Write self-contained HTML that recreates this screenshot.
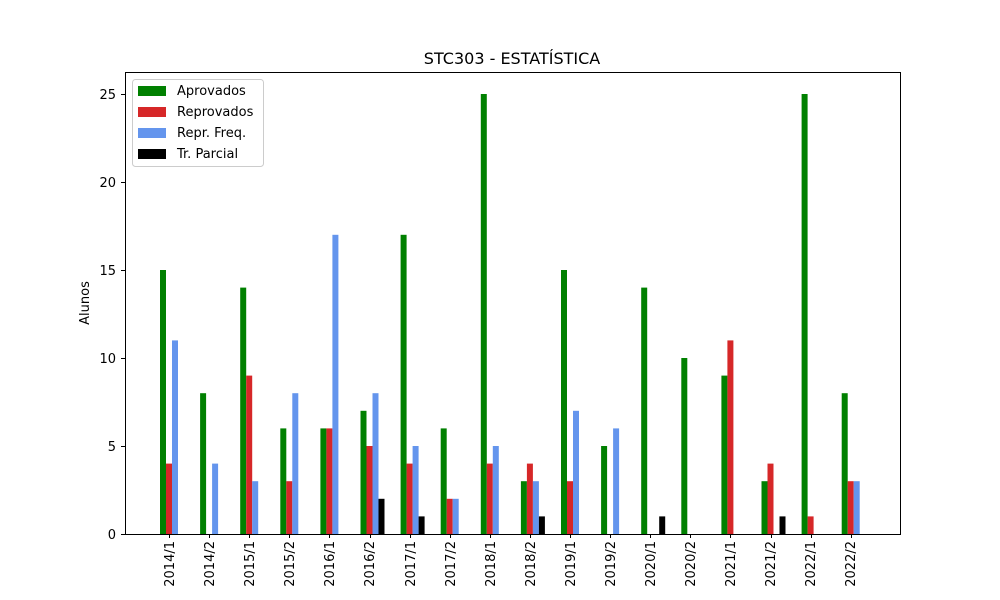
<!DOCTYPE html>
<html><head><meta charset="utf-8"><style>body{margin:0;background:#fff}svg{display:block}text{font-family:"DejaVu Sans","Liberation Sans",sans-serif;fill:#000}</style></head>
<body>
<svg id="s" width="1000" height="600" xmlns="http://www.w3.org/2000/svg">
<rect width="1000" height="600" fill="#fff"/>
<g id="bars"></g>
<rect x="125.5" y="72.5" width="775" height="462" fill="none" stroke="#000" stroke-width="1"/>
<text x="512" y="64" font-size="16" text-anchor="middle">STC303 - ESTATÍSTICA</text>
<text transform="translate(89,303) rotate(-90)" font-size="13" text-anchor="middle">Alunos</text>
<g font-size="13" text-anchor="end">
<text x="116" y="539">0</text><text x="116" y="451">5</text><text x="116" y="363">10</text>
<text x="116" y="275">15</text><text x="116" y="187">20</text><text x="116" y="99">25</text>
</g>
<g stroke="#000"><line x1="121" x2="125" y1="534.5" y2="534.5"/><line x1="121" x2="125" y1="446.5" y2="446.5"/><line x1="121" x2="125" y1="358.5" y2="358.5"/><line x1="121" x2="125" y1="270.5" y2="270.5"/><line x1="121" x2="125" y1="182.5" y2="182.5"/><line x1="121" x2="125" y1="94.5" y2="94.5"/></g>
<g id="xt" font-size="13" text-anchor="end">
<text transform="translate(174,541) rotate(-90)">2014/1</text>
<text transform="translate(214,541) rotate(-90)">2014/2</text>
<text transform="translate(254,541) rotate(-90)">2015/1</text>
<text transform="translate(294,541) rotate(-90)">2015/2</text>
<text transform="translate(334,541) rotate(-90)">2016/1</text>
<text transform="translate(374,541) rotate(-90)">2016/2</text>
<text transform="translate(415,541) rotate(-90)">2017/1</text>
<text transform="translate(455,541) rotate(-90)">2017/2</text>
<text transform="translate(495,541) rotate(-90)">2018/1</text>
<text transform="translate(535,541) rotate(-90)">2018/2</text>
<text transform="translate(575,541) rotate(-90)">2019/1</text>
<text transform="translate(615,541) rotate(-90)">2019/2</text>
<text transform="translate(655,541) rotate(-90)">2020/1</text>
<text transform="translate(695,541) rotate(-90)">2020/2</text>
<text transform="translate(735,541) rotate(-90)">2021/1</text>
<text transform="translate(775,541) rotate(-90)">2021/2</text>
<text transform="translate(815,541) rotate(-90)">2022/1</text>
<text transform="translate(855,541) rotate(-90)">2022/2</text>
</g>
<g id="xticks" stroke="#000"></g>
<rect x="132.5" y="79.5" width="131" height="87" rx="3" fill="#fff" stroke="#ccc"/>
<rect x="138" y="86" width="28" height="10" fill="#008000"/>
<rect x="138" y="107" width="28" height="10" fill="#d62728"/>
<rect x="138" y="128" width="28" height="10" fill="#6495ed"/>
<rect x="138" y="149" width="28" height="10" fill="#000"/>
<g font-size="13"><text x="177" y="95">Aprovados</text><text x="177" y="116">Reprovados</text><text x="177" y="137">Repr. Freq.</text><text x="177" y="158">Tr. Parcial</text></g>
</svg>
<script>
var d=[[15,8,14,6,6,7,17,6,25,3,15,5,14,10,9,3,25,8],[4,0,9,3,6,5,4,2,4,4,3,0,0,0,11,4,1,3],[11,4,3,8,17,8,5,2,5,3,7,6,0,0,0,0,0,3],[0,0,0,0,0,2,1,0,0,1,0,0,1,0,0,1,0,0]];
var c=["#008000","#d62728","#6495ed","#000"],h="",t="";
for(var i=0;i<18;i++){var x0=160+40.1*i;
for(var s=0;s<4;s++){var v=d[s][i];if(v>0)h+='<rect x="'+(x0+6*s)+'" y="'+(534-17.6*v)+'" width="6" height="'+(17.6*v)+'" fill="'+c[s]+'"/>';}
var tx=Math.round(x0+9)+0.5;t+='<line x1="'+tx+'" x2="'+tx+'" y1="534" y2="538"/>';}
document.getElementById("bars").innerHTML=h;document.getElementById("xticks").innerHTML=t;
</script>
</body></html>
